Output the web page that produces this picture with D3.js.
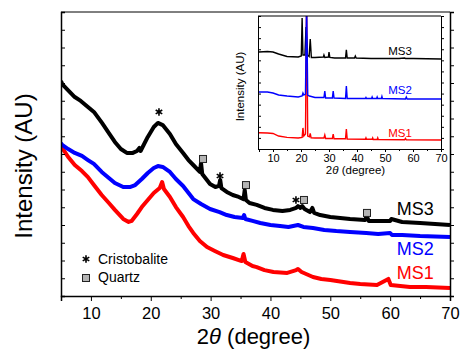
<!DOCTYPE html>
<html>
<head>
<meta charset="utf-8">
<script src="https://cdn.jsdelivr.net/npm/d3@7"></script>
<style>
  body { margin: 0; background: #fff; }
  svg { font-family: "Liberation Sans", Arial, sans-serif; }
</style>
</head>
<body>
<div id="chart"></div>
<script>
"use strict";

// main pattern, [2theta, intensity (AU)]
const ms3 = [[5.0,12.11],[5.2,11.94],[6,11.66],[7.3,11.21],[8.3,10.99],[9.5,10.65],[10.5,10.37],[11.85,9.75],[13,9.18],[14,8.68],[15,8.28],[16,8.06],[17,8.06],[17.7,8.17],[18.1,8.34],[18.3,8.17],[19.5,8.96],[20.5,9.52],[21.2,9.75],[22,9.63],[23.2,9.13],[24.2,8.56],[25.4,8.06],[26.3,7.66],[27.1,7.38],[28.2,6.99],[28.4,7.49],[28.6,6.87],[29.9,6.31],[30.8,6.14],[31.4,6.20],[31.6,6.54],[31.8,6.08],[32.7,5.86],[33.7,5.69],[34.7,5.58],[35.5,5.46],[35.7,5.97],[35.9,5.41],[36.5,5.24],[37.7,5.13],[39,4.96],[40.4,4.85],[42,4.79],[43.3,4.85],[44.3,4.96],[44.6,5.07],[45.0,4.96],[45.3,5.07],[45.7,4.90],[46.6,4.73],[47.0,4.96],[47.3,4.68],[48.3,4.56],[50,4.45],[53.3,4.34],[55.8,4.28],[56.1,4.51],[56.4,4.23],[58,4.23],[60,4.23],[60.2,4.34],[62,4.17],[65,4.11],[67.5,4.06],[70,4.00]];
const ms2 = [[5.0,8.62],[5.2,8.51],[6.2,8.28],[7.3,8.06],[8.5,7.89],[9.5,7.66],[10.5,7.44],[11.8,6.99],[13,6.65],[14,6.37],[15.4,6.14],[16.5,6.14],[17.4,6.25],[18.5,6.59],[19.5,6.93],[20.5,7.21],[21.2,7.32],[22,7.27],[23.2,6.99],[24.2,6.59],[25.4,6.20],[27.1,5.46],[28.4,5.18],[29.9,4.90],[31.5,4.73],[32.7,4.56],[34,4.45],[35.4,4.39],[35.6,4.56],[35.8,4.34],[37,4.23],[38.3,4.11],[40,4.00],[41.6,3.94],[43,3.89],[44.6,4.00],[45.5,3.89],[47.1,3.83],[49,3.72],[51,3.66],[53.3,3.61],[56,3.55],[58,3.49],[60,3.55],[60.3,3.44],[62,3.44],[65,3.38],[70,3.32]];
const ms1 = [[5.0,8.51],[5.2,8.34],[6.2,7.83],[7.3,7.38],[8.5,7.04],[9.5,6.70],[10.5,6.25],[11.8,5.69],[13,5.24],[14,4.85],[15.4,4.34],[16.3,4.17],[16.8,4.23],[17.7,4.62],[18.5,5.01],[19.5,5.41],[20.5,5.80],[21.5,6.08],[21.9,6.42],[22.2,6.03],[23.2,5.58],[24.2,5.01],[25.4,4.45],[26.3,3.94],[27.1,3.55],[28.2,3.10],[29.4,2.76],[30.7,2.54],[32.1,2.31],[33.7,2.14],[35.2,1.97],[35.5,2.37],[35.8,1.92],[37,1.69],[37.7,1.63],[39,1.46],[40.5,1.35],[42.8,1.30],[44.3,1.46],[44.6,1.52],[45.2,1.35],[47.1,1.07],[48.5,0.96],[50,0.90],[53.3,0.73],[55,0.68],[57.8,0.62],[59.7,0.96],[60.1,0.62],[63.3,0.51],[66,0.51],[70,0.45]];

// inset pattern, [2theta, intensity (AU)]
const insetMs3 = [[5,8.75],[8,8.80],[10,8.75],[12,8.57],[15,8.35],[19,8.30],[20.1,8.39],[20.4,11.82],[20.7,8.48],[21.4,8.48],[21.8,11.01],[22.3,8.48],[22.9,8.35],[23.3,9.93],[23.7,8.26],[25,8.26],[28,8.30],[28.2,8.48],[28.5,8.26],[29.8,8.30],[30.0,8.75],[30.3,8.26],[32,8.21],[35.9,8.21],[36.2,8.94],[36.5,8.21],[39.1,8.21],[39.4,8.39],[39.7,8.21],[45,8.17],[55,8.17],[57,8.21],[57.3,8.17],[60,8.17],[70,8.12]];
const insetMs2 = [[5,5.14],[8,5.14],[10,5.05],[12,4.87],[15,4.78],[19,4.69],[20.4,4.78],[20.7,5.05],[21.0,4.87],[21.6,4.95],[22.0,13.5],[22.4,4.87],[23,4.78],[25,4.65],[28.2,4.65],[28.5,5.23],[28.8,4.60],[31.2,4.60],[31.5,5.23],[31.8,4.60],[35.9,4.55],[36.2,5.69],[36.5,4.55],[43,4.55],[43.2,4.65],[43.4,4.55],[45.2,4.55],[45.4,4.69],[45.6,4.55],[47,4.55],[47.2,4.69],[47.4,4.55],[48.7,4.55],[48.9,4.74],[49.1,4.55],[57.3,4.51],[57.6,4.69],[57.9,4.51],[70,4.51]];
const insetMs1 = [[5,1.47],[8,1.44],[10,1.40],[12,1.17],[15,1.05],[19,0.99],[20.4,1.05],[20.7,1.90],[21.0,1.17],[21.6,1.35],[22.0,13.5],[22.4,1.17],[23.0,1.10],[23.3,1.40],[23.6,1.00],[25,0.99],[28.2,0.99],[28.5,1.26],[28.8,0.95],[31.2,0.95],[31.5,1.35],[31.8,0.92],[35.9,0.92],[36.2,1.81],[36.5,0.90],[43,0.88],[43.2,1.0],[43.4,0.88],[45.4,0.88],[45.6,1.0],[45.8,0.86],[47.2,0.86],[47.4,1.0],[47.6,0.85],[57,0.83],[57.3,0.95],[57.6,0.82],[70,0.81]];

const seriesNames = ["MS1", "MS2", "MS3"];
const seriesColors = ["#ff0000", "#0000ff", "#000000"];
const xTicks = [10, 20, 30, 40, 50, 60, 70];

// phase markers on the main pattern, [2theta, intensity]
const cristobalite = [[21.37, 10.37], [31.57, 6.76], [44.26, 5.41]];
const quartz = [[28.73, 7.72], [35.91, 6.25], [45.6, 5.41], [56.13, 4.68]];

// label anchors, [2theta, intensity] per series (MS1, MS2, MS3)
const mainLabelPos = [[67.3, 0.96], [67.3, 2.31], [67.3, 4.56]];
const insetLabelPos = [[55.4, 1.08], [55.4, 4.96], [55.4, 8.48]];

const W = 460, H = 349;
const svg = d3.select("#chart").append("svg").attr("width", W).attr("height", H);

const main = { left: 61, right: 450, top: 12, bottom: 296 };
const x = d3.scaleLinear().domain([5, 70]).range([main.left, main.right]);
const y = d3.scaleLinear().domain([0, 16]).range([main.bottom, main.top]);

const line = d3.line().x(d => x(d[0])).y(d => y(d[1]));

svg.append("clipPath").attr("id", "mainClip")
  .append("rect").attr("x", main.left).attr("y", main.top)
  .attr("width", main.right - main.left).attr("height", main.bottom - main.top);

const curves = svg.append("g").attr("clip-path", "url(#mainClip)");
[ms1, ms2, ms3].forEach((s, i) => {
  curves.append("path").datum(s)
    .attr("fill", "none")
    .attr("stroke", seriesColors[i])
    .attr("stroke-width", 4)
    .attr("stroke-linejoin", "round")
    .attr("d", line);
});

// axes
const xAxis = svg.append("g").attr("transform", `translate(0,${main.bottom})`)
  .call(d3.axisBottom(x).tickValues(xTicks).tickSize(5).tickFormat(d3.format("d")));
svg.append("g").attr("transform", `translate(0,${main.bottom})`)
  .call(d3.axisBottom(x).tickValues(d3.range(5, 71, 10)).tickSize(3).tickFormat(""))
  .call(g => g.select(".domain").remove());
xAxis.selectAll("text").attr("font-size", 16.5).attr("dy", "0.92em").attr("fill", "#000");

svg.append("g").attr("transform", `translate(${main.left},0)`)
  .call(d3.axisRight(y).ticks(16).tickSize(4).tickFormat(""));
svg.append("g").attr("transform", `translate(${main.right},0)`)
  .call(d3.axisRight(y).ticks(16).tickSize(4).tickFormat(""));
svg.append("line").attr("x1", main.left).attr("x2", main.right)
  .attr("y1", main.top).attr("y2", main.top).attr("stroke", "#000");
svg.selectAll(".domain").attr("stroke-width", 1.5);

svg.append("text")
  .attr("x", (main.left + main.right) / 2 - 2).attr("y", 344)
  .attr("text-anchor", "middle").attr("font-size", 22)
  .call(t => {
    t.append("tspan").text("2");
    t.append("tspan").attr("font-style", "italic").text("θ");
    t.append("tspan").text(" (degree)");
  });
svg.append("text")
  .attr("transform", `translate(32,${(main.top + main.bottom) / 2 + 12}) rotate(-90)`)
  .attr("text-anchor", "middle").attr("font-size", 24)
  .text("Intensity (AU)");

// series labels
seriesNames.forEach((n, i) => {
  svg.append("text")
    .attr("x", x(mainLabelPos[i][0])).attr("y", y(mainLabelPos[i][1]))
    .attr("text-anchor", "end").attr("font-size", 18)
    .attr("fill", seriesColors[i]).text(n);
});

// phase markers
const star = d3.symbol(d3.symbolAsterisk, 40);
svg.selectAll("path.star").data(cristobalite).join("path").attr("class", "star")
  .attr("transform", d => `translate(${x(d[0])},${y(d[1])})`)
  .attr("d", star).attr("fill", "none").attr("stroke", "#000").attr("stroke-width", 1.6);
svg.selectAll("rect.qz").data(quartz).join("rect").attr("class", "qz")
  .attr("x", d => x(d[0]) - 3.5).attr("y", d => y(d[1]) - 3.5)
  .attr("width", 7).attr("height", 7)
  .attr("fill", "#b4b4b4").attr("stroke", "#222").attr("stroke-width", 1);

// legend
const legend = svg.append("g").attr("transform", "translate(86,259)");
legend.append("path").attr("d", star).attr("fill", "none")
  .attr("stroke", "#000").attr("stroke-width", 1.6);
legend.append("text").attr("x", 12).attr("y", 5).attr("font-size", 14).text("Cristobalite");
legend.append("rect").attr("x", -3.5).attr("y", 15.5).attr("width", 7).attr("height", 7)
  .attr("fill", "#b4b4b4").attr("stroke", "#222");
legend.append("text").attr("x", 12).attr("y", 23).attr("font-size", 14).text("Quartz");

// inset
const ins = { left: 258, right: 441, top: 16, bottom: 149 };
const xi = d3.scaleLinear().domain([5, 70]).range([ins.left + 1, ins.right]);
const yi = d3.scaleLinear().domain([0, 12]).range([ins.bottom, ins.top]);
const lineI = d3.line().x(d => xi(d[0])).y(d => yi(d[1]));

svg.append("rect").attr("x", ins.left).attr("y", ins.top)
  .attr("width", ins.right - ins.left).attr("height", ins.bottom - ins.top)
  .attr("fill", "#fff");
svg.append("clipPath").attr("id", "insClip")
  .append("rect").attr("x", ins.left).attr("y", ins.top)
  .attr("width", ins.right - ins.left).attr("height", ins.bottom - ins.top);
const insCurves = svg.append("g").attr("clip-path", "url(#insClip)");
[[insetMs1, 0], [insetMs3, 2], [insetMs2, 1]].forEach(([s, i]) => {
  insCurves.append("path").datum(s)
    .attr("fill", "none").attr("stroke", seriesColors[i])
    .attr("stroke-width", 1.4).attr("d", lineI);
});

const xiAxis = svg.append("g").attr("transform", `translate(0,${ins.bottom})`)
  .call(d3.axisBottom(xi).tickValues(xTicks).tickSize(3).tickPadding(2).tickFormat(d3.format("d")));
svg.append("g").attr("transform", `translate(0,${ins.bottom})`)
  .call(d3.axisBottom(xi).tickValues(d3.range(5, 71, 10)).tickSize(2).tickFormat(""))
  .call(g => g.select(".domain").remove());
xiAxis.selectAll("text").attr("font-size", 11).attr("dy", "0.71em").attr("fill", "#000");
svg.append("g").attr("transform", `translate(${ins.left},0)`)
  .call(d3.axisRight(yi).ticks(12).tickSize(3).tickFormat(""));
svg.append("g").attr("transform", `translate(${ins.right},0)`)
  .call(d3.axisRight(yi).ticks(12).tickSize(3).tickFormat(""));
svg.append("line").attr("x1", ins.left).attr("x2", ins.right)
  .attr("y1", ins.top).attr("y2", ins.top).attr("stroke", "#000");

svg.append("text")
  .attr("x", (ins.left + ins.right) / 2 + 6).attr("y", 174)
  .attr("text-anchor", "middle").attr("font-size", 11.5)
  .call(t => {
    t.append("tspan").text("2");
    t.append("tspan").attr("font-style", "italic").text("θ");
    t.append("tspan").text(" (degree)");
  });
svg.append("text")
  .attr("transform", `translate(244,${(ins.top + ins.bottom) / 2 + 4}) rotate(-90)`)
  .attr("text-anchor", "middle").attr("font-size", 11.5)
  .text("Intensity (AU)");

seriesNames.forEach((n, i) => {
  svg.append("text")
    .attr("x", xi(insetLabelPos[i][0])).attr("y", yi(insetLabelPos[i][1]))
    .attr("text-anchor", "middle").attr("font-size", 11.5)
    .attr("fill", seriesColors[i]).text(n);
});
</script>
</body>
</html>
